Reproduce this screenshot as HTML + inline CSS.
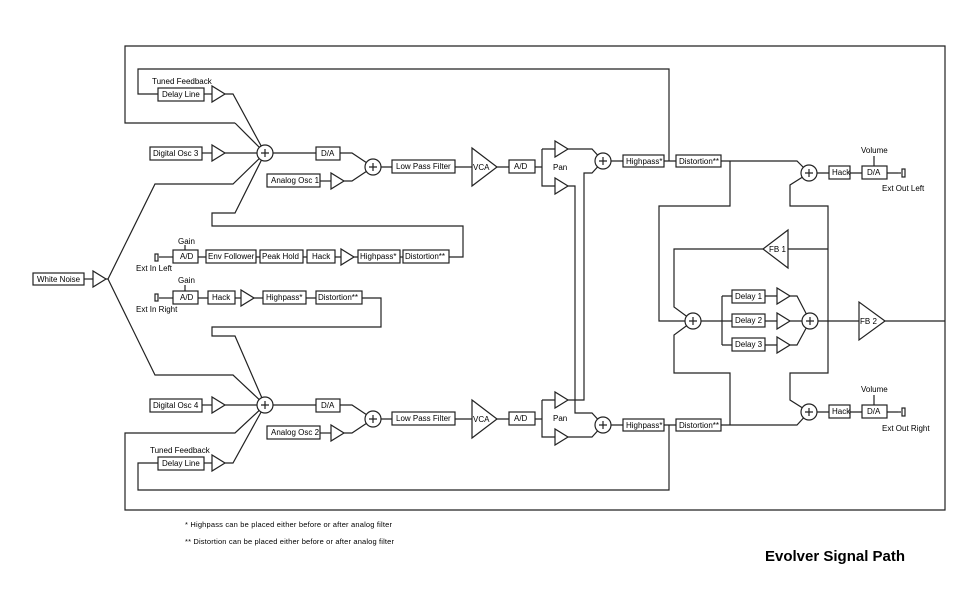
<!DOCTYPE html>
<html><head><meta charset="utf-8"><style>
html,body{margin:0;padding:0;background:#fff;}
svg{display:block;}
text{font-family:"Liberation Sans",Arial,sans-serif;font-size:8px;fill:#000;}
.l{fill:none;stroke:#222;stroke-width:1.2;}
.b{fill:#fff;stroke:#222;stroke-width:1.2;}
</style></head><body>
<svg width="974" height="607" viewBox="0 0 974 607" xmlns="http://www.w3.org/2000/svg">
<defs>
<g id="tri"><polygon class="b" points="0,-8 0,8 13,0"/></g>
<g id="sum"><circle class="b" cx="0" cy="0" r="8"/><path class="l" d="M-4,0H4M0,-4V4"/></g>
</defs>
<!-- frame + loops -->
<path class="l" d="M235,123H125V46H945V510H125V433H235L265,405"/>
<path class="l" d="M235,123L265,153"/>
<path class="l" d="M158,94H138V69H669V161"/>
<path class="l" d="M158,463H138V490H669V425"/>
<!-- white noise -->
<rect class="b" x="33" y="273" width="51" height="12"/><text x="37" y="282">White Noise</text>
<path class="l" d="M84,279H93"/><use href="#tri" x="93" y="279"/>
<path class="l" d="M106,279H108L155,184H233L265,153M108,279L155,375H233L265,405"/>
<!-- top voice -->
<text x="152" y="84">Tuned Feedback</text>
<rect class="b" x="158" y="88" width="46" height="13"/><text x="162" y="97">Delay Line</text>
<path class="l" d="M204,94H212"/><use href="#tri" x="212" y="94"/><path class="l" d="M225,94H233L265,153"/>
<rect class="b" x="150" y="147" width="52" height="13"/><text x="153" y="156">Digital Osc 3</text>
<path class="l" d="M202,153H212"/><use href="#tri" x="212" y="153"/><path class="l" d="M225,153H265"/>
<path class="l" d="M265,153L235,213H212V226H463V257H449"/>
<path class="l" d="M265,153H316M340,153H352L373,167M344,181H352L373,167M373,167H392M455,167H472M497,167H509M535,167H542M542,149V186H555M542,149H555"/>
<use href="#sum" x="265" y="153"/>
<rect class="b" x="316" y="147" width="24" height="13"/><text x="321" y="156">D/A</text>
<rect class="b" x="267" y="174" width="53" height="13"/><text x="271" y="183">Analog Osc 1</text>
<path class="l" d="M320,181H331"/><use href="#tri" x="331" y="181"/>
<use href="#sum" x="373" y="167"/>
<rect class="b" x="392" y="160" width="63" height="13"/><text x="396" y="169">Low Pass Filter</text>
<polygon class="b" points="472,148 472,186 497,167"/><text x="473" y="170">VCA</text>
<rect class="b" x="509" y="160" width="26" height="13"/><text x="514" y="169">A/D</text>
<text x="553" y="170">Pan</text>
<use href="#tri" x="555" y="149"/><use href="#tri" x="555" y="186"/>
<path class="l" d="M568,149H592L603,161M568,186H575V413H592L603,425M568,400H584V173H592L603,161"/>
<path class="l" d="M611,161H623M664,161H676M611,425H623M664,425H676"/>
<use href="#sum" x="603" y="161"/>
<rect class="b" x="623" y="155" width="41" height="12"/><text x="626" y="164">Highpass*</text>
<rect class="b" x="676" y="155" width="45" height="12"/><text x="679" y="164">Distortion**</text>
<!-- ext in -->
<text x="178" y="244">Gain</text><path class="l" d="M185,245V250"/>
<rect class="b" x="155" y="254" width="3" height="7"/><path class="l" d="M159,257H173"/>
<text x="136" y="271">Ext In Left</text>
<rect class="b" x="173" y="250" width="25" height="13"/><text x="180" y="259">A/D</text>
<path class="l" d="M198,257H206M256,257H260M303,257H307M335,257H341M354,257H358M400,257H403"/>
<rect class="b" x="206" y="250" width="50" height="13"/><text x="208" y="259">Env Follower</text>
<rect class="b" x="260" y="250" width="43" height="13"/><text x="262" y="259">Peak Hold</text>
<rect class="b" x="307" y="250" width="28" height="13"/><text x="312" y="259">Hack</text>
<use href="#tri" x="341" y="257"/>
<rect class="b" x="358" y="250" width="42" height="13"/><text x="360" y="259">Highpass*</text>
<rect class="b" x="403" y="250" width="46" height="13"/><text x="405" y="259">Distortion**</text>
<text x="178" y="283">Gain</text><path class="l" d="M185,285V291"/>
<rect class="b" x="155" y="294" width="3" height="7"/><path class="l" d="M159,298H173"/>
<text x="136" y="312">Ext In Right</text>
<rect class="b" x="173" y="291" width="25" height="13"/><text x="180" y="300">A/D</text>
<path class="l" d="M198,298H208M235,298H241M254,298H263M306,298H316M362,298H381V327H212V336H235L265,405"/>
<rect class="b" x="208" y="291" width="27" height="13"/><text x="212" y="300">Hack</text>
<use href="#tri" x="241" y="298"/>
<rect class="b" x="263" y="291" width="43" height="13"/><text x="266" y="300">Highpass*</text>
<rect class="b" x="316" y="291" width="46" height="13"/><text x="318" y="300">Distortion**</text>
<!-- bottom voice -->
<rect class="b" x="150" y="399" width="52" height="13"/><text x="153" y="408">Digital Osc 4</text>
<path class="l" d="M202,405H212"/><use href="#tri" x="212" y="405"/><path class="l" d="M225,405H265"/>
<text x="150" y="453">Tuned Feedback</text>
<rect class="b" x="158" y="457" width="46" height="13"/><text x="162" y="466">Delay Line</text>
<path class="l" d="M204,463H212"/><use href="#tri" x="212" y="463"/><path class="l" d="M225,463H233L265,405"/>
<path class="l" d="M265,405H316M340,405H352L373,419M344,433H352L373,419M373,419H392M455,419H472M497,419H509M535,419H542M542,400V437H555M542,400H555"/>
<use href="#sum" x="265" y="405"/>
<rect class="b" x="316" y="399" width="24" height="13"/><text x="321" y="408">D/A</text>
<rect class="b" x="267" y="426" width="53" height="13"/><text x="271" y="435">Analog Osc 2</text>
<path class="l" d="M320,433H331"/><use href="#tri" x="331" y="433"/>
<use href="#sum" x="373" y="419"/>
<rect class="b" x="392" y="412" width="63" height="13"/><text x="396" y="421">Low Pass Filter</text>
<polygon class="b" points="472,400 472,438 497,419"/><text x="473" y="422">VCA</text>
<rect class="b" x="509" y="412" width="26" height="13"/><text x="514" y="421">A/D</text>
<text x="553" y="421">Pan</text>
<use href="#tri" x="555" y="400"/><use href="#tri" x="555" y="437"/>
<path class="l" d="M568,437H592L603,425"/>
<use href="#sum" x="603" y="425"/>
<rect class="b" x="623" y="419" width="41" height="12"/><text x="626" y="428">Highpass*</text>
<rect class="b" x="676" y="419" width="45" height="12"/><text x="679" y="428">Distortion**</text>
<!-- effects section -->
<path class="l" d="M721,161H797L809,173M730,161V206H659V321H693"/>
<path class="l" d="M809,173L790,185V206H828V373H790V400L809,412"/>
<path class="l" d="M788,249H828M763,249H674V307L693,321M693,321L674,335V373H730V425M721,425H797L809,412"/>
<path class="l" d="M693,321H722M722,296V345M722,296H732M722,321H732M722,345H732M765,296H777M765,321H777M765,345H777M790,296H797L810,321M790,321H810M790,345H797L810,321M810,321H859M885,321H945"/>
<polygon class="b" points="788,230 788,268 763,249"/><text x="769" y="252">FB 1</text>
<use href="#sum" x="693" y="321"/>
<rect class="b" x="732" y="290" width="33" height="13"/><text x="735" y="299">Delay 1</text>
<rect class="b" x="732" y="314" width="33" height="13"/><text x="735" y="323">Delay 2</text>
<rect class="b" x="732" y="338" width="33" height="13"/><text x="735" y="347">Delay 3</text>
<use href="#tri" x="777" y="296"/><use href="#tri" x="777" y="321"/><use href="#tri" x="777" y="345"/>
<use href="#sum" x="810" y="321"/>
<polygon class="b" points="859,302 859,340 885,321"/><text x="860" y="324">FB 2</text>
<!-- outputs -->
<path class="l" d="M817,173H829M850,173H862M887,173H898M817,412H829M850,412H862M887,412H898M874,156V166M874,395V405"/>
<use href="#sum" x="809" y="173"/><use href="#sum" x="809" y="412"/>
<rect class="b" x="829" y="166" width="21" height="13"/><text x="832" y="175">Hack</text>
<rect class="b" x="862" y="166" width="25" height="13"/><text x="867" y="175">D/A</text>
<text x="861" y="153">Volume</text>
<rect class="b" x="902" y="169" width="3" height="8"/><path class="l" d="M898,173H901"/>
<text x="882" y="191">Ext Out Left</text>
<rect class="b" x="829" y="405" width="21" height="13"/><text x="832" y="414">Hack</text>
<rect class="b" x="862" y="405" width="25" height="13"/><text x="867" y="414">D/A</text>
<text x="861" y="392">Volume</text>
<rect class="b" x="902" y="408" width="3" height="8"/><path class="l" d="M898,412H901"/>
<text x="882" y="431">Ext Out Right</text>
<!-- footnotes -->
<text x="185" y="527" style="font-size:7.5px" textLength="207">* Highpass can be placed either before or after analog filter</text>
<text x="185" y="544" style="font-size:7.5px" textLength="209">** Distortion can be placed either before or after analog filter</text>
<text x="765" y="561" style="font-size:15px;font-weight:bold">Evolver Signal Path</text>
</svg>
</body></html>
